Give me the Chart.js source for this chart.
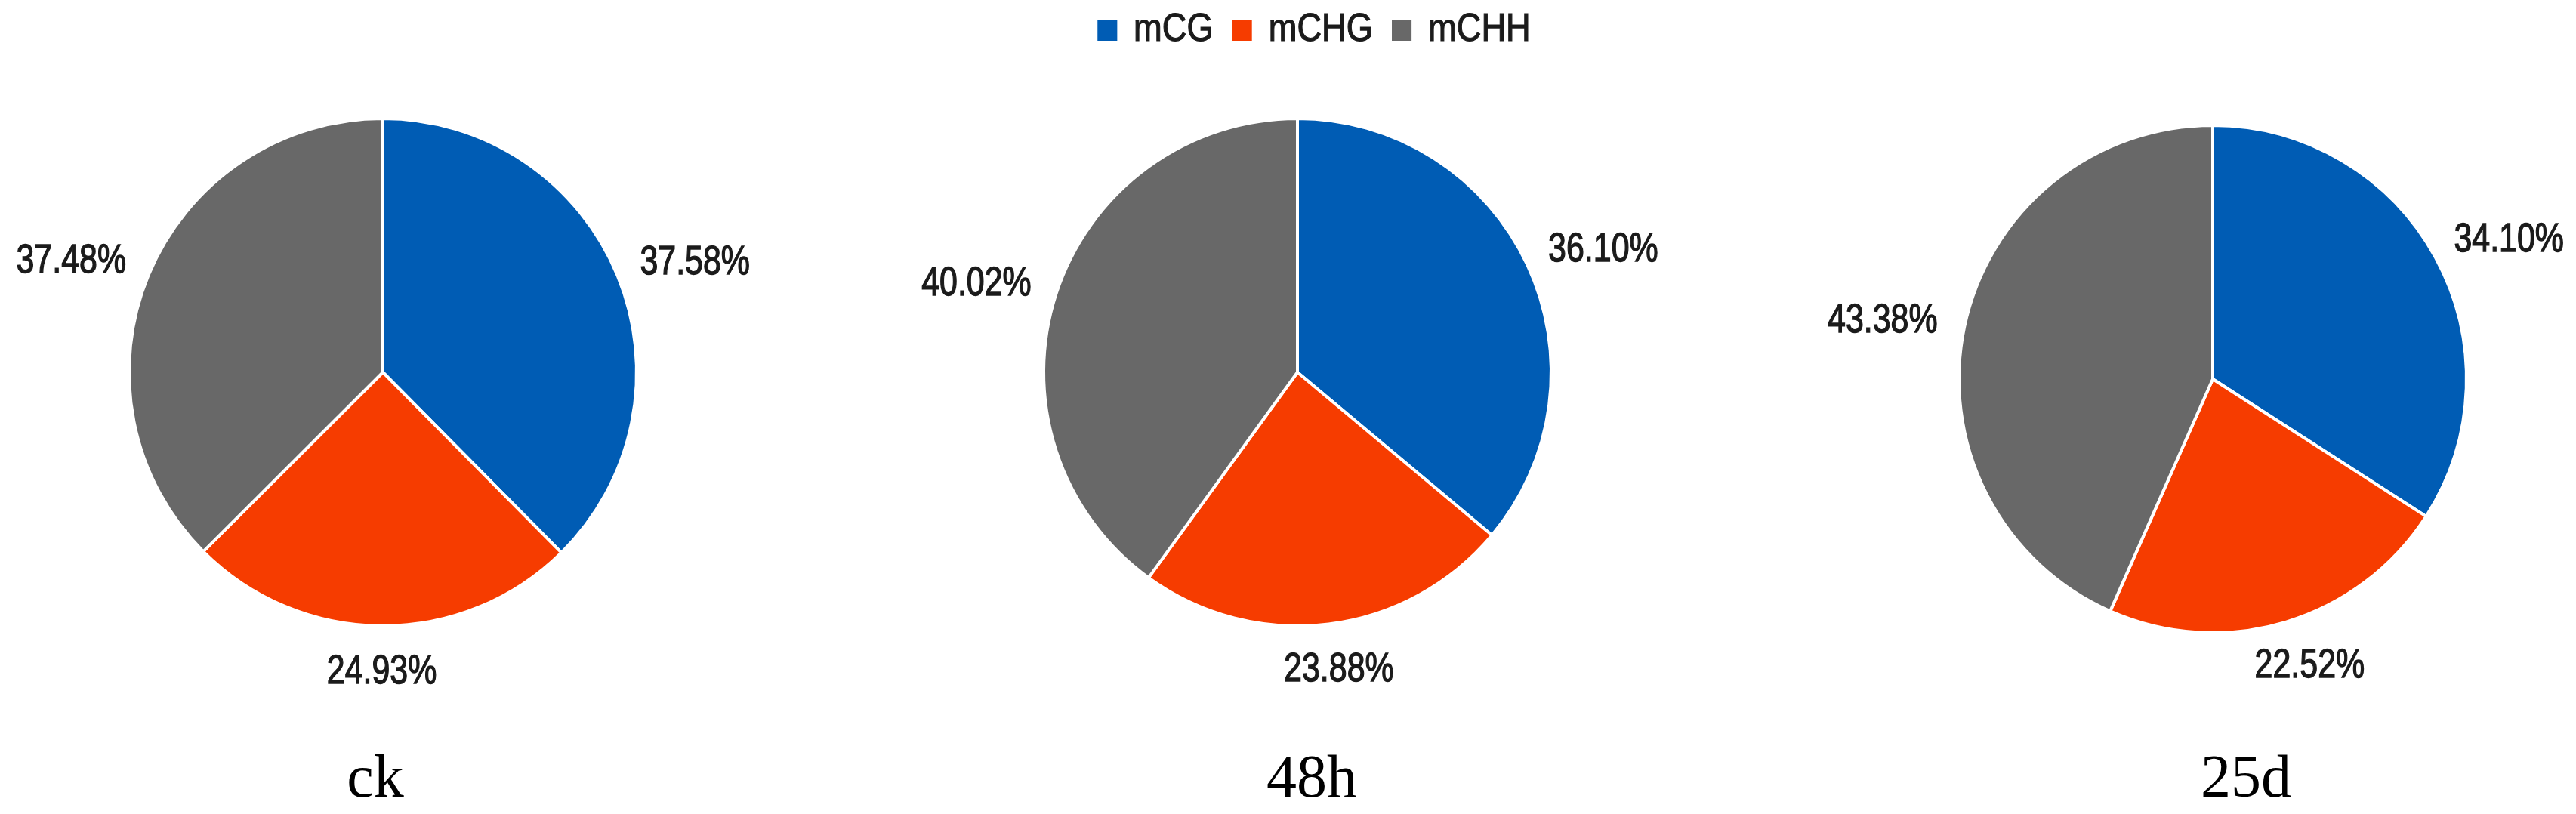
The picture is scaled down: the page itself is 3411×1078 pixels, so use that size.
<!DOCTYPE html>
<html>
<head>
<meta charset="utf-8">
<script src="https://cdn.jsdelivr.net/npm/chart.js@4.4.0/dist/chart.umd.min.js"></script>
<style>
  html, body { margin: 0; padding: 0; background: #fff; }
  body { width: 3411px; height: 1078px; position: relative; overflow: hidden; }
  .pie { position: absolute; top: 0; width: 1200px; height: 1078px; }
  .title {
    position: absolute; top: 988px; transform: translateX(-50%);
    font-family: 'Liberation Serif', 'Times New Roman', serif; font-size: 80px; line-height: 80px; color: #000;
  }
  #legend {
    position: absolute; top: 10px; left: 1740px; white-space: nowrap;
    transform: translateX(-50%) scaleX(0.87);
    font-family: 'Liberation Sans', Arial, sans-serif; font-size: 52px; line-height: 52px; color: #1b1b1b;
    -webkit-text-stroke: 1.2px #1b1b1b;
  }
  #legend .box { display: inline-block; width: 30px; height: 28px; margin-right: 25px; vertical-align: baseline; }
  #legend .item { margin-right: 29px; }
</style>
</head>
<body>
<div id="legend"></div>

<script>
// methylation context share (%) for each sample
const groups = ['ck', '48h', '25d'];
const categories = ['mCG', 'mCHG', 'mCHH'];
const mCG  = [37.58, 36.10, 34.10];
const mCHG = [24.93, 23.88, 22.52];
const mCHH = [37.48, 40.02, 43.38];
const colors = ['#005cb4', '#f63c00', '#686868'];

// where each pie sits on the page (center x, center y) and where its caption goes
const pieCenters = [[507, 493], [1718, 493], [2930, 502]];
const titleX = [497, 1737, 2974];
const PIE_SIZE = 676;

// outside-end percent labels, like the office chart ones
const pctLabels = {
  id: 'pctLabels',
  afterDatasetsDraw(chart) {
    const ctx = chart.ctx;
    const meta = chart.getDatasetMeta(0);
    const values = chart.data.datasets[0].data;
    const squeeze = 0.81;
    ctx.save();
    ctx.font = '53px "Liberation Sans", Arial, sans-serif';
    ctx.fillStyle = '#1b1b1b';
    ctx.strokeStyle = '#1b1b1b';
    ctx.lineWidth = 1.4;
    ctx.textAlign = 'center';
    ctx.textBaseline = 'alphabetic';
    meta.data.forEach((arc, i) => {
      const p = arc.getProps(['x', 'y', 'startAngle', 'endAngle', 'outerRadius'], true);
      const mid = (p.startAngle + p.endAngle) / 2;
      const dx = Math.cos(mid), dy = Math.sin(mid);
      const text = values[i].toFixed(2) + '%';
      const w = ctx.measureText(text).width * squeeze;
      const h = 38;
      const cx = p.x + dx * (p.outerRadius + 38) + dx * w / 2;
      const cy = p.y + dy * (p.outerRadius + 38) + dy * h / 2;
      ctx.save();
      ctx.translate(cx, cy + h / 2);
      ctx.scale(squeeze, 1);
      ctx.fillText(text, 0, 0);
      ctx.strokeText(text, 0, 0);
      ctx.restore();
    });
    ctx.restore();
  }
};

// legend
const legendEl = document.getElementById('legend');
categories.forEach((name, i) => {
  const item = document.createElement('span');
  item.className = 'item';
  if (i === categories.length - 1) item.style.marginRight = '0';
  item.innerHTML = `<span class="box" style="background:${colors[i]}"></span>${name}`;
  legendEl.appendChild(item);
});

groups.forEach((g, k) => {
  const [cx, cy] = pieCenters[k];
  const wrap = document.createElement('div');
  wrap.className = 'pie';
  wrap.style.left = (cx - 600) + 'px';
  const canvas = document.createElement('canvas');
  wrap.appendChild(canvas);
  document.body.appendChild(wrap);

  const side = (1200 - PIE_SIZE) / 2;
  new Chart(canvas, {
    type: 'pie',
    data: {
      labels: categories,
      datasets: [{
        data: [mCG[k], mCHG[k], mCHH[k]],
        backgroundColor: colors,
        borderColor: '#ffffff',
        borderWidth: 4
      }]
    },
    options: {
      responsive: true,
      maintainAspectRatio: false,
      animation: false,
      layout: { padding: { left: side, right: side, top: cy - PIE_SIZE / 2, bottom: 1078 - cy - PIE_SIZE / 2 } },
      plugins: { legend: { display: false }, tooltip: { enabled: false } }
    },
    plugins: [pctLabels]
  });

  const t = document.createElement('div');
  t.className = 'title';
  t.style.left = titleX[k] + 'px';
  t.textContent = g;
  document.body.appendChild(t);
});
</script>
</body>
</html>
